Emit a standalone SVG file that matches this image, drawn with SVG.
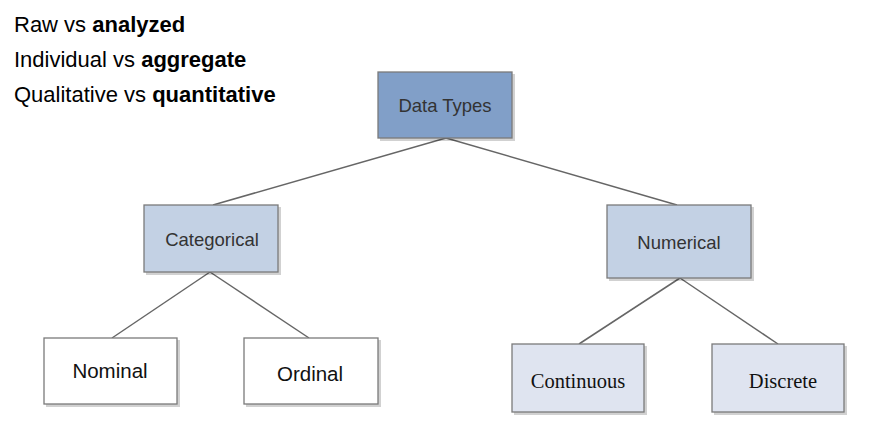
<svg xmlns="http://www.w3.org/2000/svg" width="876" height="439" viewBox="0 0 876 439">
<defs>
<style>
.box{stroke:#7a7a7a;stroke-width:1.3}
.shadow{fill:#000;opacity:0.18}
.dark{fill:#819fc8}
.mid{fill:#c3d1e4}
.light{fill:#dfe4f0}
.white{fill:#fff}
.sans{font-family:"Liberation Sans",Arial,sans-serif;text-anchor:middle}
.serif{font-family:"Liberation Serif","Times New Roman",serif;text-anchor:middle;font-size:20.5px;fill:#111}
.head{font-family:"Liberation Sans",Arial,sans-serif;font-size:22px;fill:#000}
.conn line{stroke:#666;stroke-width:1.5}
</style>
</defs>
<rect width="876" height="439" fill="#fff"/>
<g id="legend">
<text class="head" x="14" y="32">Raw vs <tspan font-weight="bold">analyzed</tspan></text>
<text class="head" x="14" y="67">Individual vs <tspan font-weight="bold">aggregate</tspan></text>
<text class="head" x="14" y="102">Qualitative vs <tspan font-weight="bold">quantitative</tspan></text>
</g>
<g id="connectors" class="conn">
<line x1="446" y1="138" x2="213" y2="205"/>
<line x1="446" y1="138" x2="677" y2="205"/>
<line x1="210" y1="272" x2="112" y2="338"/>
<line x1="210" y1="272" x2="309" y2="338"/>
<line x1="680" y1="278" x2="579" y2="344"/>
<line x1="680" y1="278" x2="778" y2="344"/>
</g>
<g id="data-types">
<rect class="shadow" x="380" y="74" width="135" height="67"/>
<rect class="box dark" x="378" y="72" width="134" height="66"/>
<text class="sans" x="445" y="112" font-size="18.5" fill="#333">Data Types</text>
</g>
<g id="categorical">
<rect class="shadow" x="146" y="207" width="135" height="68"/>
<rect class="box mid" x="144" y="205" width="134" height="67"/>
<text class="sans" x="212" y="246" font-size="18.5" fill="#333">Categorical</text>
</g>
<g id="numerical">
<rect class="shadow" x="609" y="207" width="145" height="74"/>
<rect class="box mid" x="607" y="205" width="144" height="73"/>
<text class="sans" x="679" y="249" font-size="18.5" fill="#333">Numerical</text>
</g>
<g id="nominal">
<rect class="shadow" x="46" y="340" width="134" height="67"/>
<rect class="box white" x="44" y="338" width="133" height="66"/>
<text class="sans" x="110" y="378" font-size="20.5" fill="#111">Nominal</text>
</g>
<g id="ordinal">
<rect class="shadow" x="246" y="340" width="135" height="67"/>
<rect class="box white" x="244" y="338" width="134" height="66"/>
<text class="sans" x="310" y="381" font-size="20.5" fill="#111">Ordinal</text>
</g>
<g id="continuous">
<rect class="shadow" x="514" y="346" width="133" height="69"/>
<rect class="box light" x="512" y="344" width="132" height="68"/>
<text class="serif" x="578" y="388">Continuous</text>
</g>
<g id="discrete">
<rect class="shadow" x="714" y="346" width="133" height="69"/>
<rect class="box light" x="712" y="344" width="132" height="68"/>
<text class="serif" x="783" y="388">Discrete</text>
</g>
</svg>
